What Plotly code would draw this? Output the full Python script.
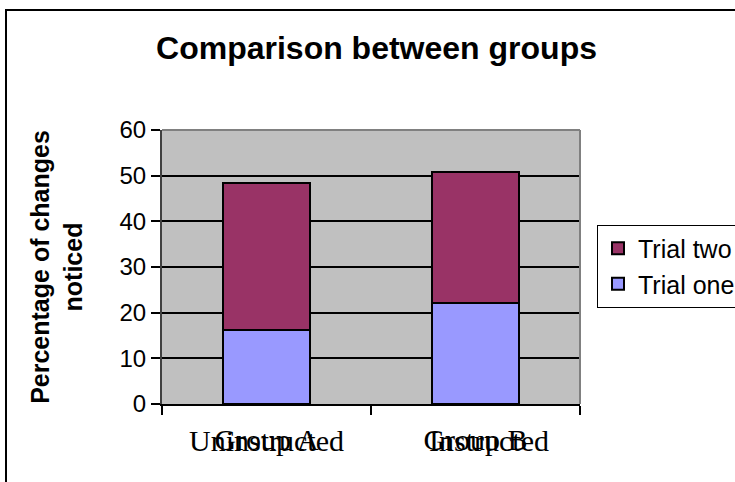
import plotly.graph_objects as go

# Chart data
groups = ["Group A", "Group B"]
conditions = ["Uninstructed", "Instructed"]
trial_one = [16.3, 22.1]
trial_two = [32.0, 28.8]
y_ticks = [0, 10, 20, 30, 40, 50, 60]

W, H = 735, 482
L, R, T, B = 162, 155, 130, 78
pw, ph = W - L - R, H - T - B


def px_x(px):
    return (px - L) / pw


def px_y(py):
    return (H - B - py) / ph


SANS = "Liberation Sans, Arial, sans-serif"
SERIF = "Liberation Serif, Times New Roman, serif"

fig = go.Figure()
fig.add_trace(go.Bar(
    x=groups, y=trial_one, name="Trial one",
    marker=dict(color="#9999FF", line=dict(color="black", width=2)),
))
fig.add_trace(go.Bar(
    x=groups, y=trial_two, name="Trial two",
    marker=dict(color="#993366", line=dict(color="black", width=2)),
))

# second-level category names, written over the group names
annotations = []
for g, c, dx in zip(groups, conditions, [0, 13]):
    annotations.append(dict(
        x=g, xref="x", y=px_y(440), yref="paper", yanchor="middle",
        text=c, showarrow=False, xshift=dx,
        font=dict(family=SERIF, size=30, color="black"),
    ))

shapes = [
    # outer chart frame (left and top edges)
    dict(type="line", xref="paper", yref="paper",
         x0=px_x(6), x1=px_x(6), y0=px_y(10), y1=px_y(500),
         line=dict(color="black", width=2)),
    dict(type="line", xref="paper", yref="paper",
         x0=px_x(5), x1=px_x(760), y0=px_y(10), y1=px_y(10),
         line=dict(color="black", width=2)),
    # plot area edges (top and right)
    dict(type="line", xref="paper", yref="paper",
         x0=0, x1=1, y0=1, y1=1, line=dict(color="#808080", width=2)),
    dict(type="line", xref="paper", yref="paper",
         x0=1, x1=1, y0=0, y1=1, line=dict(color="#808080", width=2)),
]

fig.update_layout(
    width=W, height=H,
    margin=dict(l=L, r=R, t=T, b=B, autoexpand=False),
    paper_bgcolor="white",
    plot_bgcolor="#C0C0C0",
    barmode="stack",
    bargap=0.584,
    showlegend=True,
    title=dict(
        text="Comparison between groups",
        x=376.5 / W, xref="container", xanchor="center",
        y=1 - 48 / H, yref="container", yanchor="middle",
        font=dict(family=SANS, size=32, color="black", weight="bold"),
    ),
    legend=dict(
        x=px_x(597), xref="paper", xanchor="left",
        y=px_y(266), yref="paper", yanchor="middle",
        traceorder="reversed",
        bgcolor="white", bordercolor="black", borderwidth=1,
        font=dict(family=SANS, size=25, color="black"),
    ),
    xaxis=dict(
        type="category",
        tickson="boundaries",
        ticks="outside", ticklen=9, tickwidth=1.5, tickcolor="black",
        showline=True, linecolor="black", linewidth=2,
        showgrid=False,
        tickfont=dict(family=SERIF, size=30, color="black"),
        ticklabelstandoff=8,
    ),
    yaxis=dict(
        range=[0, 60], tickvals=y_ticks,
        ticks="outside", ticklen=9, tickwidth=1.5, tickcolor="black",
        showline=True, linecolor="#404040", linewidth=2,
        showgrid=True, gridcolor="black", gridwidth=1.5,
        zeroline=False,
        tickfont=dict(family=SANS, size=24, color="black"),
        title=dict(
            text="Percentage of changes<br>noticed",
            font=dict(family=SANS, size=25, color="black", weight="bold"),
            standoff=30,
        ),
    ),
    annotations=annotations,
    shapes=shapes,
)

fig.write_html("out.html")
